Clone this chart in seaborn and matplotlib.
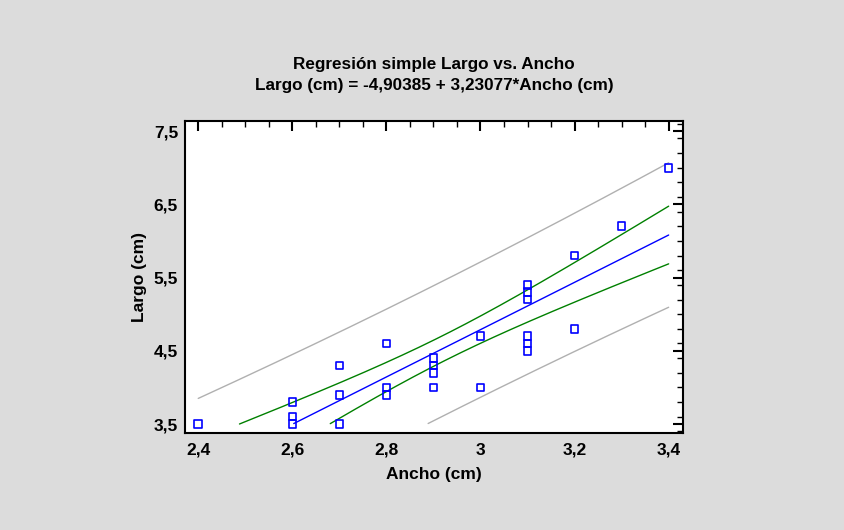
import numpy as np
import pandas as pd
import matplotlib
matplotlib.use("Agg")
import matplotlib.pyplot as plt
from matplotlib.ticker import MultipleLocator, FuncFormatter
import seaborn as sns

# datos
ancho = [2.4, 2.6, 2.6, 2.6, 2.7, 2.7, 2.7, 2.8, 2.8, 2.8, 2.9, 2.9, 2.9, 2.9,
         3.0, 3.0, 3.1, 3.1, 3.1, 3.1, 3.1, 3.1, 3.2, 3.2, 3.3, 3.4]
largo = [3.5, 3.8, 3.6, 3.5, 4.3, 3.9, 3.5, 4.6, 4.0, 3.9, 4.4, 4.3, 4.2, 4.0,
         4.7, 4.0, 5.4, 5.3, 5.2, 4.7, 4.6, 4.5, 5.8, 4.8, 6.2, 7.0]
intercepto = -4.90385
pendiente = 3.23077
t_crit = 2.064  # t(0.975, n-2)

x = np.array(ancho)
y = np.array(largo)
n = len(x)
s = np.sqrt(np.sum((y - (intercepto + pendiente * x)) ** 2) / (n - 2))
sxx = np.sum((x - x.mean()) ** 2)

xg = np.linspace(2.4, 3.4, 400)
yg = intercepto + pendiente * xg
se_conf = t_crit * s * np.sqrt(1 / n + (xg - x.mean()) ** 2 / sxx)
se_pred = t_crit * s * np.sqrt(1 + 1 / n + (xg - x.mean()) ** 2 / sxx)

def recortar(v):
    v = v.copy()
    v[v < 3.5] = np.nan
    return v

sns.set_style("white")
plt.rcParams['font.family'] = ['Liberation Sans', 'DejaVu Sans']
plt.rcParams['font.weight'] = 'bold'
plt.rcParams['text.color'] = 'black'
plt.rcParams['axes.labelcolor'] = 'black'
plt.rcParams['xtick.color'] = 'black'
plt.rcParams['ytick.color'] = 'black'

fig = plt.figure(figsize=(8.45, 5.30), dpi=100, facecolor='#dcdcdc')
ax = fig.add_axes([0.219, 0.183, 0.589, 0.589])
ax.set_facecolor('white')

gris = '#b0b0b0'
verde = '#008000'
for curva, color in [(yg + se_pred, gris), (yg - se_pred, gris),
                     (yg + se_conf, verde), (yg - se_conf, verde),
                     (yg, '#0000ff')]:
    ax.plot(xg, recortar(curva), color=color, lw=1)

sns.scatterplot(x=ancho, y=largo, ax=ax, marker='s', s=30,
                facecolor='none', edgecolor='#0000ff', linewidth=1.2, zorder=5)

ax.set_xlim(2.372, 3.43)
ax.set_ylim(3.377, 7.64)
ax.xaxis.set_major_locator(MultipleLocator(0.2))
ax.xaxis.set_minor_locator(MultipleLocator(0.05))
ax.yaxis.set_minor_locator(MultipleLocator(0.2))
ax.set_yticks([3.5, 4.5, 5.5, 6.5, 7.5])
coma = FuncFormatter(lambda v, p: ('%g' % round(v, 2)).replace('.', ','))
ax.xaxis.set_major_formatter(coma)
ax.yaxis.set_major_formatter(coma)
ax.tick_params(which='both', direction='in', top=True, right=True,
               color='black', labelcolor='black', labelsize=12.5)
ax.tick_params(axis='x', which='major', pad=7)
ax.tick_params(axis='y', which='major', pad=5)
ax.tick_params(which='major', length=7, width=1.5)
ax.tick_params(which='minor', length=4, width=1)
for sp in ax.spines.values():
    sp.set_color('black')
    sp.set_linewidth(1.5)

ax.set_xlabel('Ancho (cm)', fontsize=12.5, fontweight='bold', labelpad=7, color='black')
ax.set_ylabel('Largo (cm)', fontsize=12.5, fontweight='bold', labelpad=5, color='black')
ax.set_title('Regresión simple Largo vs. Ancho\nLargo (cm) = -4,90385 + 3,23077*Ancho (cm)',
             fontsize=12.3, fontweight='bold', pad=22, linespacing=1.55, color='black')

fig.savefig('out.png', dpi=100, facecolor=fig.get_facecolor())
